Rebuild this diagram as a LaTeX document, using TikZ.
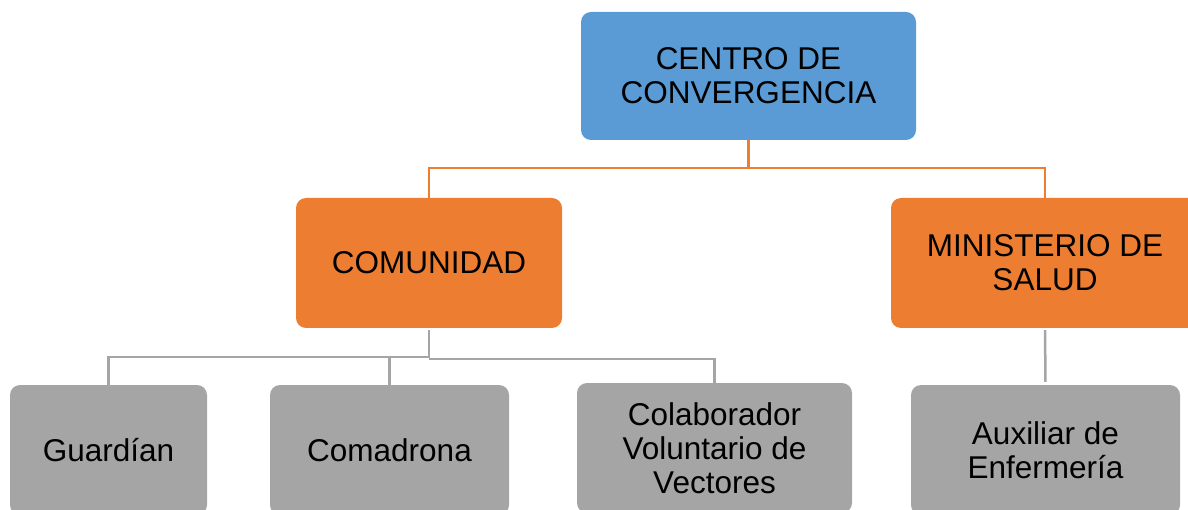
\documentclass[tikz,border=0pt]{standalone}
\usepackage{fontspec}
\setmainfont{Liberation Sans}
\definecolor{cblue}{HTML}{5B9BD5}
\definecolor{corange}{HTML}{ED7D31}
\definecolor{cgray}{HTML}{A5A5A5}
\tikzset{
  box/.style={rectangle, rounded corners=10pt, inner sep=0pt, align=center, text=black,
    font=\fontsize{31.5}{33.8}\selectfont, minimum height=130pt},
  bluebox/.style={box, fill=cblue},
  orangebox/.style={box, fill=corange},
  graybox/.style={box, fill=cgray},
  oline/.style={draw=corange, line width=2.5pt},
  gline/.style={draw=cgray, line width=2.5pt},
}
\begin{document}
\begin{tikzpicture}[x=1pt,y=-1pt]
\useasboundingbox (0,0) rectangle (1188,510);
\clip (0,0) rectangle (1188,510);
\node[bluebox, minimum width=335pt, minimum height=128pt] (centro) at (748.5,76) {CENTRO DE\\CONVERGENCIA};
\node[orangebox, minimum width=266pt] (comunidad) at (429,263) {COMUNIDAD};
\node[orangebox, minimum width=308pt] (ministerio) at (1045,263) {MINISTERIO DE\\SALUD};
\node[graybox, minimum width=197pt] (guardian) at (108.5,450) {Guardían};
\node[graybox, minimum width=239pt] (comadrona) at (389.5,450) {Comadrona};
\node[graybox, minimum width=275pt] (colaborador) at (714.5,448) {Colaborador\\Voluntario de\\Vectores};
\node[graybox, minimum width=269pt] (auxiliar) at (1045.5,450) {Auxiliar de\\Enfermería};
% orange connectors
\draw[oline] (centro.south) -- ++(0,28) coordinate (ob) -| (comunidad.north);
\draw[oline] (ob) -| (ministerio.north);
% gray connectors
\draw[gline, shorten <=2pt] (comunidad.south) -- ++(0,29) coordinate (gb) -| ([yshift=-3pt]guardian.north);
\draw[gline] (gb) -| ([yshift=-3pt]comadrona.north);
\draw[gline] ([yshift=-2pt]gb) -| ([yshift=-3pt]colaborador.north);
\draw[gline, shorten <=2pt, shorten >=3pt] (ministerio.south) -- (auxiliar.north);
\end{tikzpicture}
\end{document}
